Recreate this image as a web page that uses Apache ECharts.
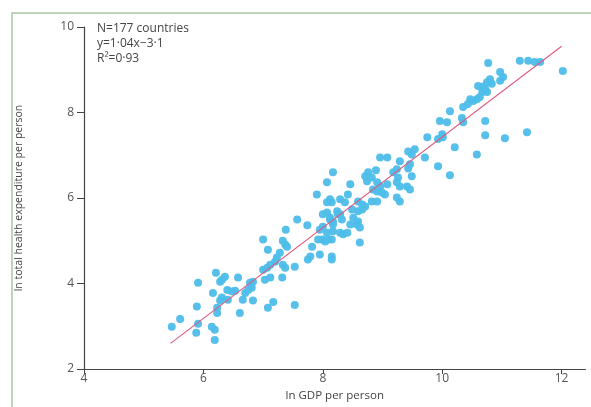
<!DOCTYPE html>
<html><head><meta charset="utf-8">
<script src="https://cdn.jsdelivr.net/npm/echarts@6/dist/echarts.min.js"></script>
<style>html,body{margin:0;padding:0;background:#fff}#c{width:591px;height:407px}</style>
</head><body><div id="c"></div>
<script>
// ln GDP per person, ln total health expenditure per person
const countries = [
[5.47,2.99],[5.61,3.17],[5.88,2.85],[5.89,3.46],[5.91,3.06],[6.14,2.99],[6.19,2.92],[6.19,2.68],[6.23,3.43],[6.23,3.31],
[6.61,3.31],[7.08,3.43],[7.53,3.50],[7.17,3.57],[6.28,3.60],[6.31,3.67],[6.41,3.62],[6.66,3.62],[6.83,3.60],[6.16,3.78],
[6.40,3.85],[6.53,3.83],[6.70,3.78],[6.75,3.85],[6.81,3.90],[5.91,4.02],[6.28,4.04],[6.21,4.25],[6.36,4.16],[6.58,4.14],
[6.83,4.04],[7.03,4.09],[7.12,4.14],[7.32,4.14],[7.00,4.32],[7.07,4.37],[7.12,4.44],[7.33,4.44],[7.37,4.37],[7.53,4.39],
[7.20,4.51],[7.23,4.61],[7.28,4.72],[7.08,4.79],[7.33,5.00],[7.37,4.91],[7.40,4.86],[7.00,5.03],[7.38,5.26],[7.57,5.50],
[7.74,5.36],[7.75,4.56],[7.79,4.63],[7.95,4.68],[8.15,4.63],[8.15,4.56],[7.82,4.86],[7.99,5.03],[8.04,4.98],[8.15,5.03],
[7.92,5.03],[8.09,5.03],[8.07,5.19],[8.17,5.38],[8.12,5.50],[8.07,5.66],[8.15,5.90],[8.24,5.69],[8.25,5.62],[8.62,4.96],
[8.29,5.19],[8.34,5.15],[8.41,5.19],[8.17,5.22],[8.00,5.33],[7.95,5.26],[8.46,5.38],[8.57,5.38],[8.62,5.31],[8.12,5.54],
[8.17,5.45],[8.32,5.50],[8.51,5.54],[8.59,5.45],[8.00,5.62],[8.29,5.62],[8.49,5.73],[8.59,5.69],[8.66,5.73],[8.12,5.97],
[8.07,5.90],[8.29,5.97],[8.37,5.90],[8.59,5.92],[8.66,5.85],[8.71,5.80],[8.82,5.92],[8.91,5.92],[7.90,6.08],[8.42,6.08],
[8.07,6.37],[8.46,6.32],[8.17,6.60],[8.84,6.20],[8.91,6.15],[8.99,6.13],[9.04,6.08],[9.24,6.01],[9.29,5.92],[8.74,6.39],
[8.91,6.37],[8.96,6.27],[9.08,6.32],[9.24,6.37],[9.29,6.27],[9.41,6.27],[9.46,6.20],[9.26,6.48],[9.49,6.51],[8.71,6.51],
[8.82,6.48],[8.76,6.60],[8.89,6.65],[8.96,6.95],[9.08,6.95],[9.29,6.86],[9.24,6.67],[9.18,6.60],[9.46,6.79],[9.43,6.69],
[9.43,7.09],[9.54,7.14],[9.49,7.02],[9.71,6.95],[9.93,6.74],[10.13,6.53],[10.21,7.19],[10.58,7.02],[9.75,7.42],[9.93,7.38],
[10.00,7.49],[10.01,7.42],[10.72,7.47],[11.05,7.40],[11.42,7.54],[9.96,7.80],[10.08,7.77],[10.33,7.87],[10.35,7.77],[10.72,7.80],
[10.13,8.03],[10.35,8.13],[10.43,8.20],[10.52,8.27],[10.47,8.31],[10.58,8.31],[10.63,8.36],[10.67,8.48],[10.75,8.48],[10.60,8.62],
[10.67,8.60],[10.72,8.55],[10.75,8.71],[10.83,8.67],[10.80,8.78],[10.97,8.74],[11.02,8.83],[10.97,8.95],[10.77,9.16],[11.30,9.21],
[11.44,9.21],[11.55,9.18],[11.64,9.18],[12.02,8.97],[6.31,4.09],[6.78,4.02],[6.48,3.81]
];
const fitLine = [[5.45,2.60],[12.0,9.55]];
const xTicks = [4,6,8,10,12];
const yTicks = [2,4,6,8,10];
const annotation = ['N=177 countries','y=1·04x−3·1','R²=0·93'];
const xName = 'ln GDP per person';
const yName = 'ln total health expenditure per person';

const chart = echarts.init(document.getElementById('c'));
const font = '"Open Sans", "Noto Sans", sans-serif';
chart.setOption({
  animation:false,
  backgroundColor:'#fff',
  grid:{left:84, top:27, right:5.5, bottom:38},
  xAxis:{type:'value', min:4, max:12.4, interval:2,
    name:xName, nameLocation:'middle', nameGap:21,
    nameTextStyle:{fontFamily:font, fontSize:11.5, color:'#444'},
    axisLine:{lineStyle:{color:'#444', width:1.2}},
    axisTick:{length:5, customValues:xTicks, lineStyle:{color:'#444'}},
    axisLabel:{customValues:xTicks, fontFamily:font, fontSize:12, color:'#555', margin:4},
    splitLine:{show:false}},
  yAxis:{type:'value', min:2, max:10, interval:2,
    name:yName, nameLocation:'middle', nameGap:59, nameRotate:90,
    nameTextStyle:{fontFamily:font, fontSize:10.5, color:'#444'},
    axisLine:{show:true, lineStyle:{color:'#444', width:1.2}},
    axisTick:{show:true, length:7, customValues:yTicks, lineStyle:{color:'#444'}},
    axisLabel:{customValues:yTicks, fontFamily:font, fontSize:12, color:'#555', margin:10},
    splitLine:{show:false}},
  graphic:[
    {type:'rect', shape:{x:12, y:13, width:640, height:460}, style:{fill:'none', stroke:'#a9c8a2', lineWidth:1.5}, silent:true},
    {type:'text', left:97, top:21, style:{text:annotation.join('\n'), font:'12px '+font, fill:'#444', lineHeight:15}}
  ],
  series:[
    {type:'scatter', data:countries, symbolSize:8, itemStyle:{color:'#4dbde9', opacity:0.95}, z:2},
    {type:'line', data:fitLine, showSymbol:false, symbol:'none', lineStyle:{color:'#e0587e', width:1.1}, z:3}
  ]
});
</script></body></html>
